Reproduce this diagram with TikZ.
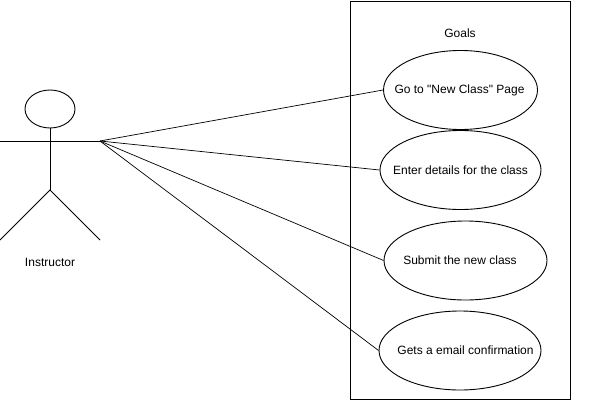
\documentclass[tikz,border=0pt]{standalone}
\usepackage{fontspec}
\setmainfont{Liberation Sans}
\newfontfamily\plainfont{Liberation Sans}
\usetikzlibrary{shapes.geometric}
\begin{document}
\begin{tikzpicture}[x=1pt,y=-1pt,line width=0.9pt,
  usecase/.style={draw,ellipse,minimum width=#1,minimum height=79pt,inner sep=0pt},
  lbl/.style={font=\plainfont\fontsize{12}{14}\selectfont,inner sep=0pt},
  link/.style={line width=0.7pt}]
\useasboundingbox[fill=white] (0,0) rectangle (596,401);
% system boundary
\node[draw,minimum width=220pt,minimum height=398pt,inner sep=0pt] (sys) at (460,200) {};
\node[lbl] (goals) at (460,33) {Goals};
% use cases
\node[usecase=154pt] (u1) at (460.5,90) {};
\node[usecase=161pt] (u2) at (460.5,170) {};
\node[usecase=163pt] (u3) at (465.5,260.5) {};
\node[usecase=162pt] (u4) at (460,350.5) {};
\node[lbl] (t1) at (459.5,90) {Go to "New Class" Page};
\node[lbl] (t2) at (460.5,170) {Enter details for the class};
\node[lbl] (t3) at (460,260.5) {Submit the new class};
\node[lbl] (t4) at (465.5,350.5) {Gets a email confirmation};
% actor
\node[draw,ellipse,minimum width=50pt,minimum height=38pt,inner sep=0pt] (head) at (50,109) {};
\coordinate (hip) at (50,190);
\coordinate (lhand) at (0,141);
\coordinate (rhand) at (100,141);
\coordinate (lfoot) at (0,240);
\coordinate (rfoot) at (100,240);
\draw (head.south) -- (hip);
\draw (lhand) -- (rhand);
\draw (lfoot) -- (hip) -- (rfoot);
\node[lbl] (actor) at (50,262) {Instructor};
% connectors
\draw[link] (rhand) -- (u1.west);
\draw[link] (rhand) -- (u2.west);
\draw[link] (rhand) -- (u3.west);
\draw[link] (rhand) -- (u4.west);
\end{tikzpicture}
\end{document}
